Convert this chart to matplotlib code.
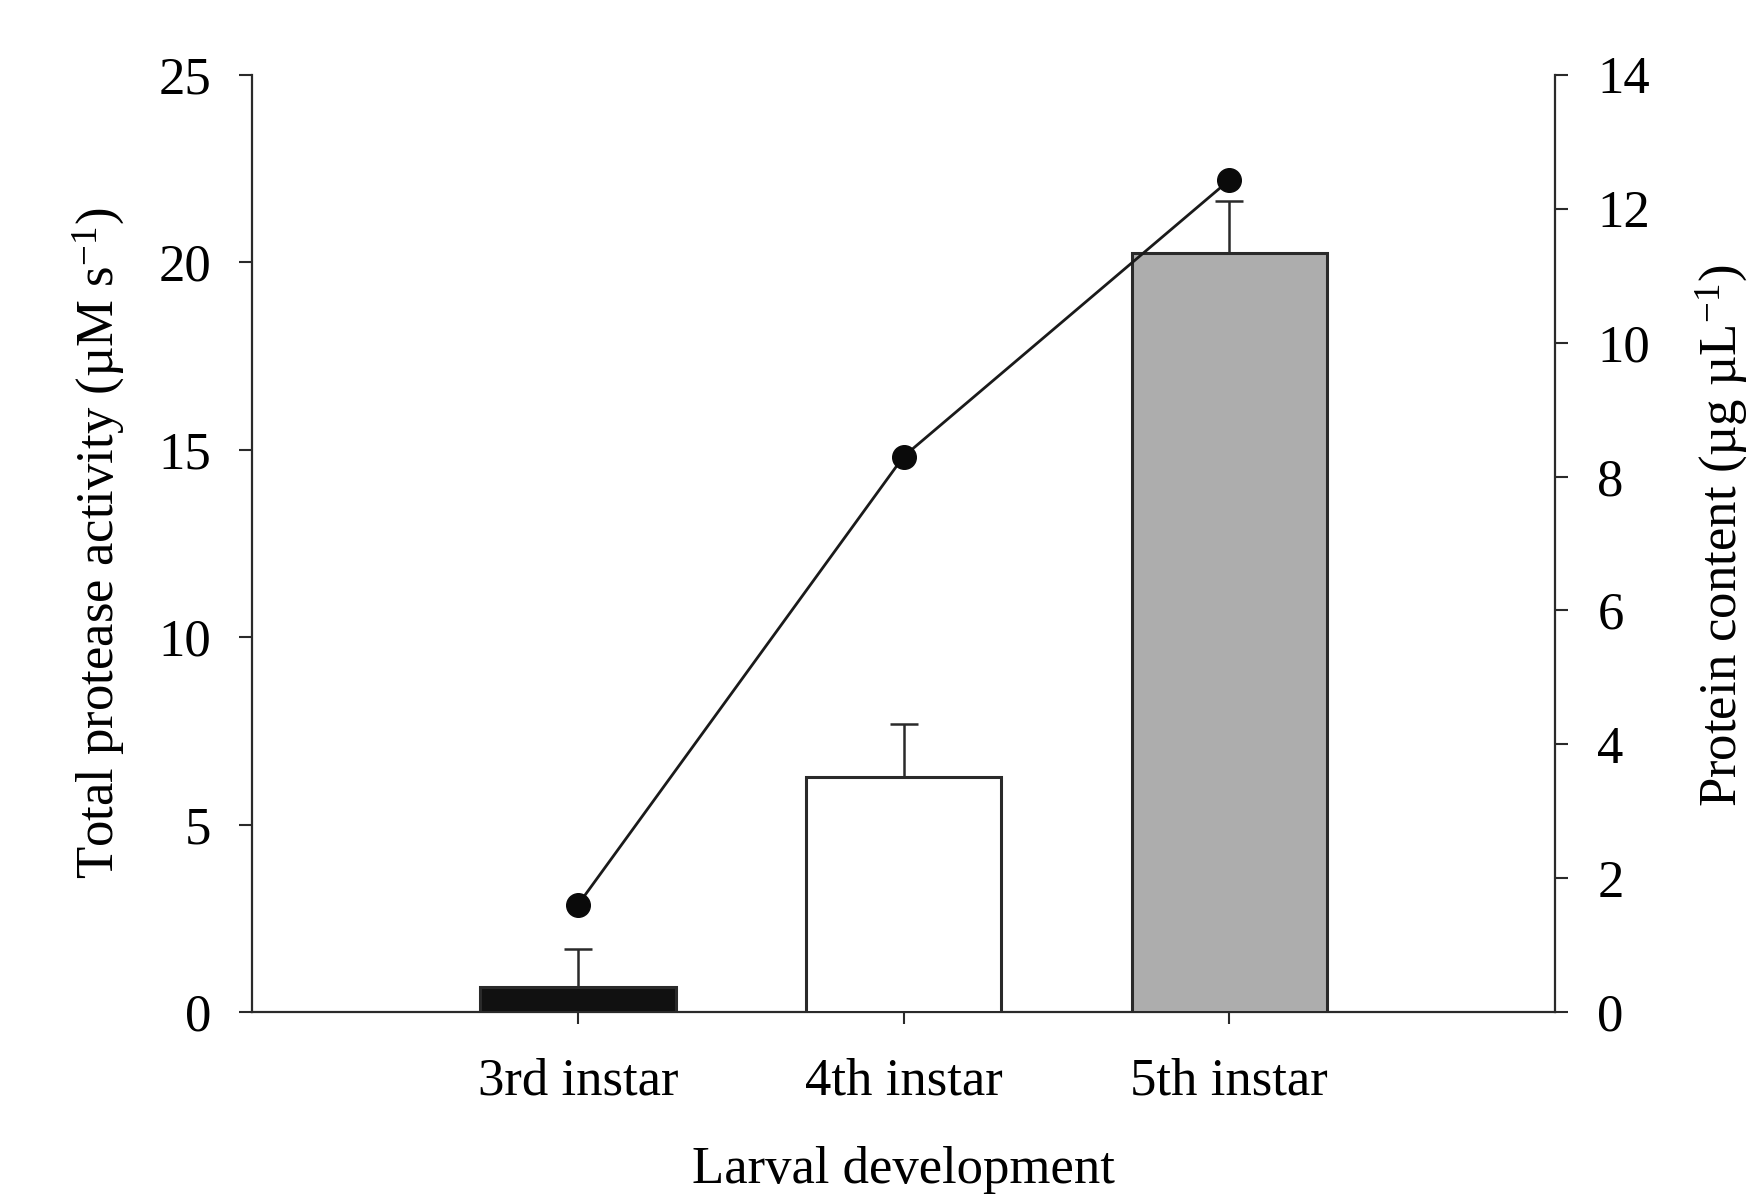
import matplotlib
matplotlib.use("Agg")
import matplotlib.pyplot as plt
import numpy as np

# data
stages = ["3rd instar", "4th instar", "5th instar"]
protease = [0.67, 6.28, 20.24]        # left axis, bars
protease_err = [1.02, 1.40, 1.40]     # upper error only
protein = [1.60, 8.30, 12.43]         # right axis, line + dots
bar_colors = ["#111111", "#ffffff", "#adadad"]

plt.rcParams["font.family"] = ["Liberation Serif", "DejaVu Serif"]
plt.rcParams["mathtext.fontset"] = "custom"
plt.rcParams["mathtext.rm"] = "Liberation Serif"
plt.rcParams["mathtext.it"] = "Liberation Serif:italic"
plt.rcParams["font.size"] = 38

edge = "#2a2a2a"

fig = plt.figure(figsize=(17.59, 11.96), dpi=100)
ax = fig.add_axes([0.1433, 0.1538, 0.7408, 0.7835])
ax2 = ax.twinx()

x = np.arange(1, len(stages) + 1)

ax.bar(x, protease, width=0.6, color=bar_colors, edgecolor=edge,
       linewidth=2.2, zorder=3)
ax.errorbar(x, protease, yerr=[np.zeros(len(x)), protease_err], fmt="none",
            ecolor=edge, elinewidth=1.8, capsize=10, capthick=1.8, zorder=2)

ax2.plot(x, protein, color="#1a1a1a", linewidth=2.0, marker="o",
         markersize=17, markerfacecolor="#0a0a0a", markeredgecolor="#0a0a0a")

ax.set_xlim(0, 4)
ax.set_ylim(0, 25)
ax2.set_ylim(0, 14)

ax.set_xticks(x)
ax.set_xticklabels(stages)
ax.set_yticks(np.arange(0, 26, 5))
ax2.set_yticks(np.arange(0, 15, 2))

for a in (ax, ax2):
    a.spines["top"].set_visible(False)
    for s in a.spines.values():
        s.set_color(edge)
        s.set_linewidth(1.6)
ax.spines["right"].set_visible(False)
ax2.spines["left"].set_visible(False)
ax2.spines["bottom"].set_visible(False)

ax.tick_params(axis="x", direction="out", length=8.6, width=1.5,
               color=edge, pad=24, labelsize=38)
ax.tick_params(axis="y", direction="out", length=9.4, width=1.5,
               color=edge, pad=20, labelsize=38)
ax2.tick_params(axis="y", direction="out", length=9.4, width=1.5,
                color=edge, pad=21, labelsize=38)

ax.set_ylabel("Total protease activity (µM s$^{-1}$)", fontsize=38, va="center")
ax.yaxis.set_label_coords(-0.118, 0.5)
ax2.set_ylabel("Protein content (µg µL$^{-1}$)", fontsize=38, va="center",
               rotation=90)
ax2.yaxis.set_label_coords(1.128, 0.508)
ax.set_xlabel("Larval development", fontsize=38, va="baseline")
ax.xaxis.set_label_coords(0.5, -0.182)

fig.savefig("out.png", dpi=100)
